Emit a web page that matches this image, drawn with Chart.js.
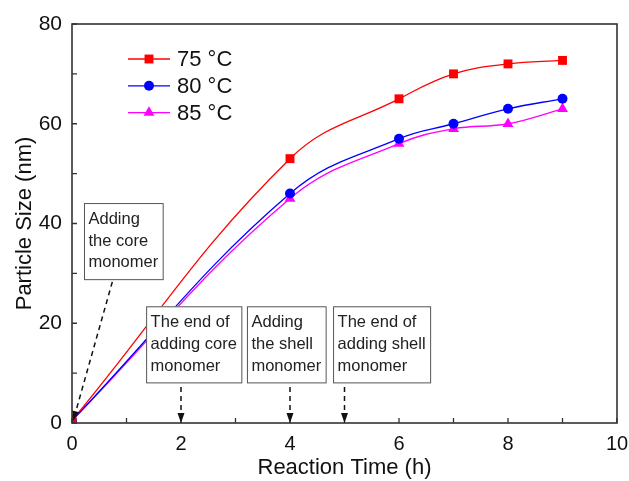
<!DOCTYPE html>
<html>
<head>
<meta charset="utf-8">
<script src="https://cdn.jsdelivr.net/npm/chart.js@4"></script>
<style>
html,body{margin:0;padding:0;background:#fff;}
#wrap{width:629px;height:481px;}
</style>
</head>
<body>
<div id="wrap"><canvas id="c" width="629" height="481"></canvas></div>
<script>
// ---- data ----
const times = [0, 4, 6, 7, 8, 9];
const size75 = [0.5, 53, 65, 70, 72, 72.7];
const size80 = [0.5, 46, 57, 60, 63, 65];
const size85 = [0.5, 45, 56, 59, 60, 63];
const seriesLabels = ['75 °C', '80 °C', '85 °C'];
const xTicks = [0, 2, 4, 6, 8, 10];
const yTicks = [0, 20, 40, 60, 80];
const xMinor = [1, 3, 5, 7, 9];
const yMinor = [10, 30, 50, 70];
const xTitle = 'Reaction Time (h)';
const yTitle = 'Particle Size (nm)';
// annotation notes
const noteLines = [
  ['Adding', 'the core', 'monomer'],
  ['The end of', 'adding core', 'monomer'],
  ['Adding', 'the shell', 'monomer'],
  ['The end of', 'adding shell', 'monomer']
];
const noteLeft = [0.22, 1.36, 3.21, 4.79];   // box left (h)
const noteTop = [44.1, 23.4, 23.4, 23.4];    // box top (nm)
const arrowFromX = [0.74, 2, 4, 5];
const arrowFromY = [28.3, 7.2, 7.2, 7.2];
const arrowToX = [0.02, 2, 4, 5];
const arrowToY = [0.4, 0, 0, 0];

const FONT = '"Liberation Sans", Arial, sans-serif';
const colors = ['#ff0000', '#0000ff', '#ff00ff'];
const styles = ['rect', 'circle', 'triangle'];
const radii = [6.3, 5, 6.3];
const seriesData = [size75, size80, size85];

const datasets = seriesData.map((arr, i) => ({
  label: seriesLabels[i],
  data: times.map((t, k) => ({x: t, y: arr[k]})),
  borderColor: colors[i],
  backgroundColor: colors[i],
  borderWidth: 1.3,
  pointStyle: styles[i],
  pointRadius: radii[i],
  pointBorderWidth: 0,
  tension: 0.4,
  fill: false
}));

const framePlugin = {
  id: 'frame',
  afterDatasetsDraw(chart) {
    const ctx = chart.ctx;
    const a = chart.chartArea;
    const xs = chart.scales.x, ys = chart.scales.y;
    ctx.save();
    // frame
    ctx.strokeStyle = '#333';
    ctx.lineWidth = 1.6;
    ctx.strokeRect(a.left, a.top, a.right - a.left, a.bottom - a.top);
    // inward ticks
    ctx.lineWidth = 1.3;
    ctx.beginPath();
    xTicks.concat(xMinor).forEach(v => {
      const px = xs.getPixelForValue(v);
      ctx.moveTo(px, a.bottom); ctx.lineTo(px, a.bottom - 5);
    });
    yTicks.concat(yMinor).forEach(v => {
      const py = ys.getPixelForValue(v);
      ctx.moveTo(a.left, py); ctx.lineTo(a.left + 5, py);
    });
    ctx.stroke();

    // notes: boxes + dashed arrows
    ctx.font = '16.5px ' + FONT;
    const lh = 21.7;
    noteLines.forEach((lines, i) => {
      const bx = xs.getPixelForValue(noteLeft[i]);
      const by = ys.getPixelForValue(noteTop[i]);
      const w = Math.max(...lines.map(l => ctx.measureText(l).width)) + 9;
      const h = lines.length * lh + 11;
      ctx.fillStyle = '#fff';
      ctx.fillRect(bx, by, w, h);
      ctx.strokeStyle = '#555';
      ctx.lineWidth = 1;
      ctx.strokeRect(bx + 0.5, by + 0.5, w, h);
      ctx.fillStyle = '#222';
      ctx.textBaseline = 'middle';
      ctx.textAlign = 'left';
      lines.forEach((l, k) => ctx.fillText(l, bx + 4.5, by + 5.5 + lh * (k + 0.5)));

      // arrow
      const x1 = xs.getPixelForValue(arrowFromX[i]), y1 = ys.getPixelForValue(arrowFromY[i]);
      const x2 = xs.getPixelForValue(arrowToX[i]), y2 = ys.getPixelForValue(arrowToY[i]);
      const ang = Math.atan2(y2 - y1, x2 - x1);
      const headL = 10, headW = 3.5;
      const bxh = x2 - headL * Math.cos(ang), byh = y2 - headL * Math.sin(ang);
      ctx.strokeStyle = '#111';
      ctx.lineWidth = 1.5;
      ctx.setLineDash([5, 4]);
      ctx.beginPath(); ctx.moveTo(x1, y1); ctx.lineTo(bxh, byh); ctx.stroke();
      ctx.setLineDash([]);
      ctx.fillStyle = '#111';
      ctx.beginPath();
      ctx.moveTo(x2, y2);
      ctx.lineTo(bxh + headW * Math.sin(ang), byh - headW * Math.cos(ang));
      ctx.lineTo(bxh - headW * Math.sin(ang), byh + headW * Math.cos(ang));
      ctx.closePath(); ctx.fill();
    });

    // legend
    ctx.font = '22px ' + FONT;
    ctx.textBaseline = 'middle';
    ctx.textAlign = 'left';
    chart.data.datasets.forEach((ds, i) => {
      const yy = a.top + 35 + i * 26.8;
      const lx = a.left + 56;
      ctx.strokeStyle = ds.borderColor;
      ctx.lineWidth = 1.3;
      ctx.beginPath(); ctx.moveTo(lx, yy); ctx.lineTo(lx + 42, yy); ctx.stroke();
      ctx.fillStyle = ds.borderColor;
      ctx.beginPath();
      Chart.helpers.drawPoint(ctx, {pointStyle: ds.pointStyle, radius: ds.pointRadius, borderWidth: 0}, lx + 21, yy);
      ctx.fillStyle = '#111';
      ctx.fillText(ds.label, lx + 49, yy + 1);
    });
    ctx.restore();
  }
};

new Chart(document.getElementById('c'), {
  type: 'line',
  data: {datasets},
  options: {
    responsive: false,
    animation: false,
    devicePixelRatio: 1,
    layout: {padding: {top: 24, right: 12, left: 0, bottom: 0}},
    plugins: {legend: {display: false}, tooltip: {enabled: false}},
    scales: {
      x: {
        type: 'linear', min: 0, max: 10,
        afterBuildTicks(s) { s.ticks = xTicks.map(v => ({value: v})); },
        afterFit(s) { s.height = 58; s.paddingLeft = 0; s.paddingRight = 0; },
        grid: {display: false, drawTicks: false},
        border: {display: false},
        ticks: {padding: 9, color: '#111', font: {family: FONT, size: 20}},
        title: {display: true, text: xTitle, color: '#111', font: {family: FONT, size: 22}, padding: 0}
      },
      y: {
        type: 'linear', min: 0, max: 80,
        afterBuildTicks(s) { s.ticks = yTicks.map(v => ({value: v})); },
        afterFit(s) { s.width = 72; s.paddingTop = 0; s.paddingBottom = 0; },
        grid: {display: false, drawTicks: false},
        border: {display: false},
        ticks: {padding: 10, color: '#111', font: {family: FONT, size: 21}},
        title: {display: true, text: yTitle, color: '#111', font: {family: FONT, size: 22}, padding: {top: 12, bottom: 0}}
      }
    }
  },
  plugins: [framePlugin]
});
</script>
</body>
</html>
